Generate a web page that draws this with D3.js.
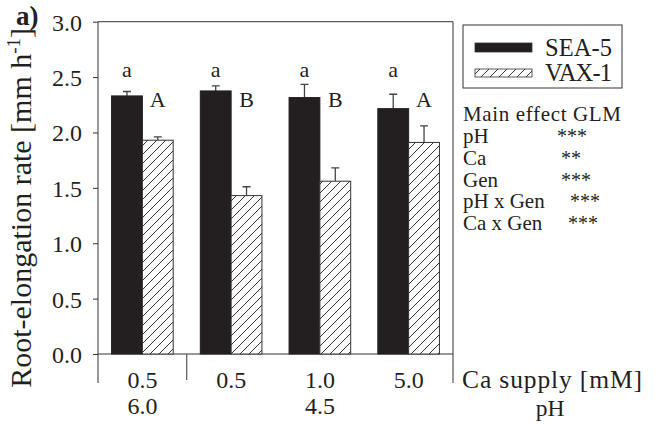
<html>
<head>
<meta charset="utf-8">
<script src="https://cdn.jsdelivr.net/npm/d3@7/dist/d3.min.js"></script>
<style>
  body { margin: 0; background: #fff; }
  text { font-family: "Liberation Serif", "Times New Roman", serif; fill: #231f20; }
</style>
</head>
<body>
<div id="chart"></div>
<script>
// data
var groups = ["g1", "g2", "g3", "g4"];
var caLabels = ["0.5", "0.5", "1.0", "5.0"];
var phLabels = ["6.0", "4.5"];
var phSpans = [[0, 0], [1, 3]];
var seriesNames = ["SEA-5", "VAX-1"];
var sea5 = [2.33, 2.375, 2.315, 2.215];
var sea5Err = [0.04, 0.045, 0.12, 0.13];
var vax1 = [1.93, 1.43, 1.56, 1.91];
var vax1Err = [0.03, 0.08, 0.12, 0.15];
var lowerLetters = ["a", "a", "a", "a"];
var upperLetters = ["A", "B", "B", "A"];
var yTicks = [0, 0.5, 1.0, 1.5, 2.0, 2.5, 3.0];
var glmFactors = ["pH", "Ca", "Gen", "pH x Gen", "Ca x Gen"];
var glmSig = ["***", "**", "***", "***", "***"];

var width = 657, height = 425;
var margin = { top: 21.7, left: 98, right: 204, bottom: 71 };
var ink = "#231f20";

var svg = d3.select("#chart").append("svg")
  .attr("width", width).attr("height", height);

var defs = svg.append("defs");
var pat = defs.append("pattern")
  .attr("id", "hatch")
  .attr("patternUnits", "userSpaceOnUse")
  .attr("width", 9).attr("height", 9);
pat.append("rect").attr("width", 9).attr("height", 9).attr("fill", "#fff");
pat.append("path")
  .attr("d", "M0,9 L9,0 M-3,3 L3,-3 M6,12 L12,6")
  .attr("stroke", "#333").attr("stroke-width", 1);

var x0 = d3.scaleBand()
  .domain(groups)
  .range([margin.left, width - margin.right])
  .padding(0);

var x1 = d3.scaleBand()
  .domain(seriesNames)
  .range([0, x0.bandwidth()])
  .paddingInner(0)
  .paddingOuter(0.44);

var y = d3.scaleLinear()
  .domain([0, 3])
  .range([height - margin.bottom, margin.top]);

var y0 = y(0);
var xr = width - margin.right;

// frame
svg.append("path")
  .attr("d", "M" + margin.left + "," + y0 + "V" + margin.top + "H" + xr + "V" + y0)
  .attr("fill", "none").attr("stroke", "#333").attr("stroke-width", 1);

// y axis
var axisy = d3.axisLeft(y).tickValues(yTicks).tickSize(5).tickFormat(d3.format(".1f"));
var gy = svg.append("g")
  .attr("transform", "translate(" + margin.left + ",0)")
  .call(axisy);
gy.select(".domain").remove();
gy.selectAll("line").attr("stroke", "#333");
gy.selectAll("text")
  .attr("font-size", "24px")
  .attr("font-family", "Liberation Serif")
  .attr("fill", ink)
  .attr("x", -16)
  .attr("dy", "0.35em");

// bottom axis line and group separators
svg.append("line")
  .attr("x1", margin.left).attr("x2", xr)
  .attr("y1", y0).attr("y2", y0)
  .attr("stroke", "#333");
var sepX = [x0.range()[0], x0("g2"), x0.range()[1]];
svg.selectAll(".sep").data(sepX).enter().append("line")
  .attr("x1", function(d) { return d; }).attr("x2", function(d) { return d; })
  .attr("y1", y0).attr("y2", function(d, i) { return i == 1 ? y0 + 26 : y0 + 29; })
  .attr("stroke", "#333");

// bars
var rows = groups.map(function(g, i) {
  return [
    { g: g, s: "SEA-5", v: sea5[i], e: sea5Err[i] },
    { g: g, s: "VAX-1", v: vax1[i], e: vax1Err[i] }
  ];
});
var flat = d3.merge(rows);

svg.append("g").selectAll("line")
  .data(flat).enter().append("path")
  .attr("d", function(d) {
    var cx = x0(d.g) + x1(d.s) + x1.bandwidth() / 2;
    return "M" + cx + "," + y(d.v) + "V" + y(d.v + d.e) + "M" + (cx - 4) + "," + y(d.v + d.e) + "H" + (cx + 4);
  })
  .attr("stroke", "#444").attr("stroke-width", 1.3).attr("fill", "none");

svg.append("g").selectAll("rect")
  .data(flat).enter().append("rect")
  .attr("x", function(d) { return x0(d.g) + x1(d.s); })
  .attr("y", function(d) { return y(d.v); })
  .attr("width", x1.bandwidth())
  .attr("height", function(d) { return y0 - y(d.v); })
  .attr("fill", function(d) { return d.s == "SEA-5" ? ink : "url(#hatch)"; })
  .attr("stroke", function(d) { return d.s == "SEA-5" ? ink : "#333"; })
  .attr("stroke-width", 1);

// significance letters
svg.append("g").selectAll("text")
  .data(groups).enter().append("text")
  .attr("x", function(d) { return x0(d) + x1("SEA-5") + x1.bandwidth() / 2; })
  .attr("y", y(2.5))
  .attr("text-anchor", "middle")
  .attr("font-size", "22px")
  .text(function(d, i) { return lowerLetters[i]; });

svg.append("g").selectAll("text")
  .data(groups).enter().append("text")
  .attr("x", function(d) { return x0(d) + x1("VAX-1") + x1.bandwidth() / 2; })
  .attr("y", y(2.23))
  .attr("text-anchor", "middle")
  .attr("font-size", "22px")
  .text(function(d, i) { return upperLetters[i]; });

// x labels
svg.append("g").selectAll("text")
  .data(groups).enter().append("text")
  .attr("x", function(d) { return x0(d) + x0.bandwidth() / 2; })
  .attr("y", y0 + 34)
  .attr("text-anchor", "middle")
  .attr("font-size", "24px")
  .text(function(d, i) { return caLabels[i]; });

svg.append("g").selectAll("text")
  .data(phLabels).enter().append("text")
  .attr("x", function(d, i) {
    var a = x0(groups[phSpans[i][0]]), b = x0(groups[phSpans[i][1]]) + x0.bandwidth();
    return (a + b) / 2;
  })
  .attr("y", y0 + 60)
  .attr("text-anchor", "middle")
  .attr("font-size", "24px")
  .text(function(d) { return d; });

svg.append("text")
  .attr("x", xr + 9).attr("y", y0 + 34)
  .attr("font-size", "25.5px")
  .attr("textLength", 180)
  .text("Ca supply [mM]");
svg.append("text")
  .attr("x", xr + 97).attr("y", y0 + 62)
  .attr("text-anchor", "middle")
  .attr("font-size", "23.5px")
  .text("pH");

// y title
var yt = svg.append("text")
  .attr("transform", "translate(31," + (margin.top + (y0 - margin.top) / 2 + 20) + ") rotate(-90)")
  .attr("text-anchor", "middle")
  .attr("font-size", "30px");
yt.append("tspan").text("Root-elongation rate [mm h");
yt.append("tspan").attr("font-size", "19px").attr("dy", "-11").text("-1");
yt.append("tspan").attr("dy", "11").text("]");

svg.append("text")
  .attr("x", 16).attr("y", 25)
  .attr("font-size", "27px")
  .attr("font-weight", "bold")
  .text("a)");

// legend
var lg = svg.append("g");
lg.append("rect")
  .attr("x", 463).attr("y", 25).attr("width", 159).attr("height", 63)
  .attr("fill", "none").attr("stroke", "#333");
seriesNames.forEach(function(s, i) {
  lg.append("rect")
    .attr("x", 475).attr("y", i == 0 ? 43 : 69)
    .attr("width", 57).attr("height", i == 0 ? 9 : 8)
    .attr("fill", i == 0 ? ink : "url(#hatch)")
    .attr("stroke", "#333").attr("stroke-width", 0.8);
  lg.append("text")
    .attr("x", 545).attr("y", 56 + i * 25)
    .attr("font-size", "24.5px")
    .attr("textLength", 67)
    .text(s);
});

// GLM table
svg.append("text")
  .attr("x", 463).attr("y", 121)
  .attr("font-size", "21px")
  .attr("textLength", 158)
  .text("Main effect GLM");
var starX = [557, 561, 561, 570, 568];
glmFactors.forEach(function(f, i) {
  svg.append("text")
    .attr("x", 463).attr("y", 143 + i * 21.8)
    .attr("font-size", "21px")
    .text(f);
  svg.append("text")
    .attr("x", starX[i]).attr("y", 143 + i * 21.8)
    .attr("font-size", "20px")
    .text(glmSig[i]);
});
</script>
</body>
</html>
